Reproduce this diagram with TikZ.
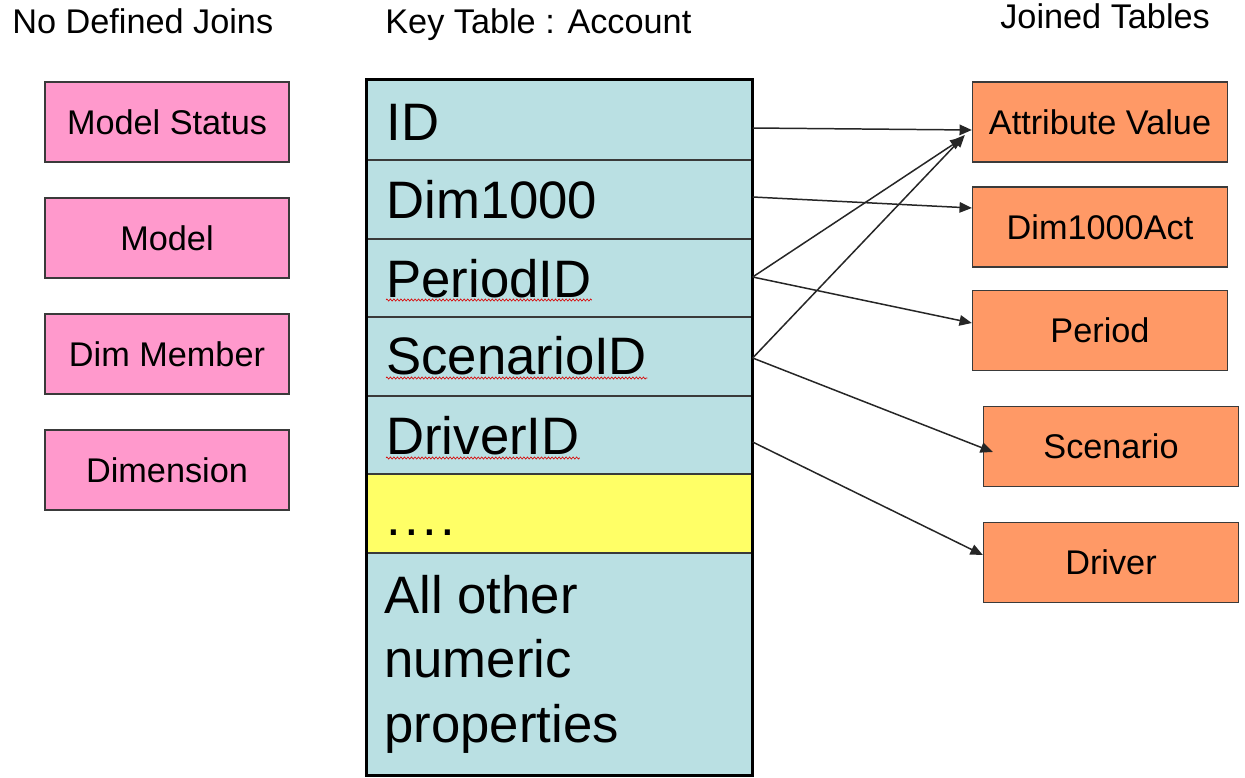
\documentclass[tikz,border=0pt]{standalone}
\usepackage{fontspec}
\setmainfont{Liberation Sans}
\usetikzlibrary{arrows.meta,calc,decorations.pathmorphing}
\definecolor{pinkbox}{HTML}{FF99CC}
\definecolor{orangebox}{HTML}{FF9966}
\definecolor{tblue}{HTML}{BAE0E3}
\definecolor{tyellow}{HTML}{FFFF66}
\definecolor{edgegray}{HTML}{3A3A3A}
\tikzset{
  pinkstyle/.style={draw=edgegray, line width=0.8pt, fill=pinkbox, minimum width=4.88cm, minimum height=1.6cm, inner sep=0pt, font=\fontsize{19.5}{23}\selectfont, text height=13.9pt, text depth=0pt},
  orangestyle/.style={draw=edgegray, line width=0.8pt, fill=orangebox, minimum width=5.1cm, minimum height=1.6cm, inner sep=0pt, font=\fontsize{19.5}{23}\selectfont, text height=13.9pt, text depth=0pt},
  rowstyle/.style={draw=edgegray, line width=0.8pt, fill=tblue, minimum width=7.7cm, inner sep=0pt},
  rowtext/.style={anchor=base west, inner sep=0pt, font=\fontsize{30}{36}\selectfont},
  headtext/.style={anchor=base west, inner sep=0pt, font=\fontsize{19.5}{23}\selectfont},
  joinarrow/.style={draw=black!85, line width=0.85pt, -{Triangle[length=7pt,width=6pt]}},
  spellmark/.style={draw=red!85!black, line width=0.35pt, decorate, decoration={zigzag, segment length=2pt, amplitude=0.6pt}}
}
\begin{document}
\begin{tikzpicture}[x=0.02cm,y=-0.02cm]
\useasboundingbox (0,0) rectangle (1245,778);
\fill[white] (0,0) rectangle (1245,778);

% headers
\node[headtext] (h1) at (12,33) {No Defined Joins};
\node[headtext] (h2) at (385,33) {Key Table : Account};
\node[headtext] (h3) at (1000,28) {Joined Tables};

% left boxes
\node[pinkstyle] (ms) at (167,122) {Model Status};
\node[pinkstyle] (mo) at (167,238) {Model};
\node[pinkstyle] (dm) at (167,354) {Dim Member};
\node[pinkstyle] (di) at (167,470) {Dimension};

% table rows
\node[rowstyle, minimum height=1.6cm] (r1) at (559.5,120) {};
\node[rowstyle, minimum height=1.58cm] (r2) at (559.5,199.5) {};
\node[rowstyle, minimum height=1.56cm] (r3) at (559.5,278) {};
\node[rowstyle, minimum height=1.58cm] (r4) at (559.5,356.5) {};
\node[rowstyle, minimum height=1.56cm] (r5) at (559.5,435) {};
\node[rowstyle, minimum height=1.58cm, fill=tyellow] (r6) at (559.5,513.5) {};
\node[rowstyle, minimum height=4.44cm] (r7) at (559.5,664) {};
\draw[line width=1.8pt, black] (r1.north west) rectangle (r7.south east);

% row texts
\node[rowtext] (t1) at (386,140) {ID};
\node[rowtext] (t2) at (386,218) {Dim1000};
\node[rowtext] (t3) at (386,297) {PeriodID};
\node[rowtext] (t4) at (386,374) {ScenarioID};
\node[rowtext] (t5) at (386,454) {DriverID};
\node[rowtext] (t6) at (386,535) {.\kern1.9pt.\kern1.9pt.\kern1.9pt.};
\node[rowtext] (t7) at (384,613) {All other};
\node[rowtext] (t8) at (384,677) {numeric};
\node[rowtext] (t9) at (384,742) {properties};

% spell-check marks
\draw[spellmark] ($(t3.base west)+(0,3)$) -- ($(t3.base east)+(0,3)$);
\draw[spellmark] ($(t4.base west)+(0,4)$) -- ($(t4.base east)+(0,4)$);
\draw[spellmark] ($(t5.base west)+(0,4)$) -- ($(t5.base east)+(0,4)$);

% right boxes
\node[orangestyle] (av) at (1100,122) {Attribute Value};
\node[orangestyle] (da) at (1100,227) {Dim1000Act};
\node[orangestyle] (pe) at (1100,330.5) {Period};
\node[orangestyle] (sc) at (1111,446.5) {Scenario};
\node[orangestyle] (dr) at (1111,562.5) {Driver};

% connectors
\draw[joinarrow] ($(r1.east)+(0,8)$) -- ($(av.west)+(0,8)$);
\draw[joinarrow] ($(r2.east)+(0,-2.5)$) -- ($(da.west)+(0,-19)$);
\draw[joinarrow] ($(r3.east)+(0,-1)$) -- ($(av.west)+(-9,16)$);
\draw[joinarrow] ($(r3.east)+(0,-1)$) -- ($(pe.west)+(0,-7.5)$);
\draw[joinarrow] ($(r4.east)+(0,1.5)$) -- ($(av.west)+(-7,13)$);
\draw[joinarrow] ($(r4.east)+(0,1.5)$) -- ($(sc.west)+(10,5.5)$);
\draw[joinarrow] ($(r5.east)+(0,7)$) -- ($(dr.west)+(0,-7.5)$);
\end{tikzpicture}
\end{document}
